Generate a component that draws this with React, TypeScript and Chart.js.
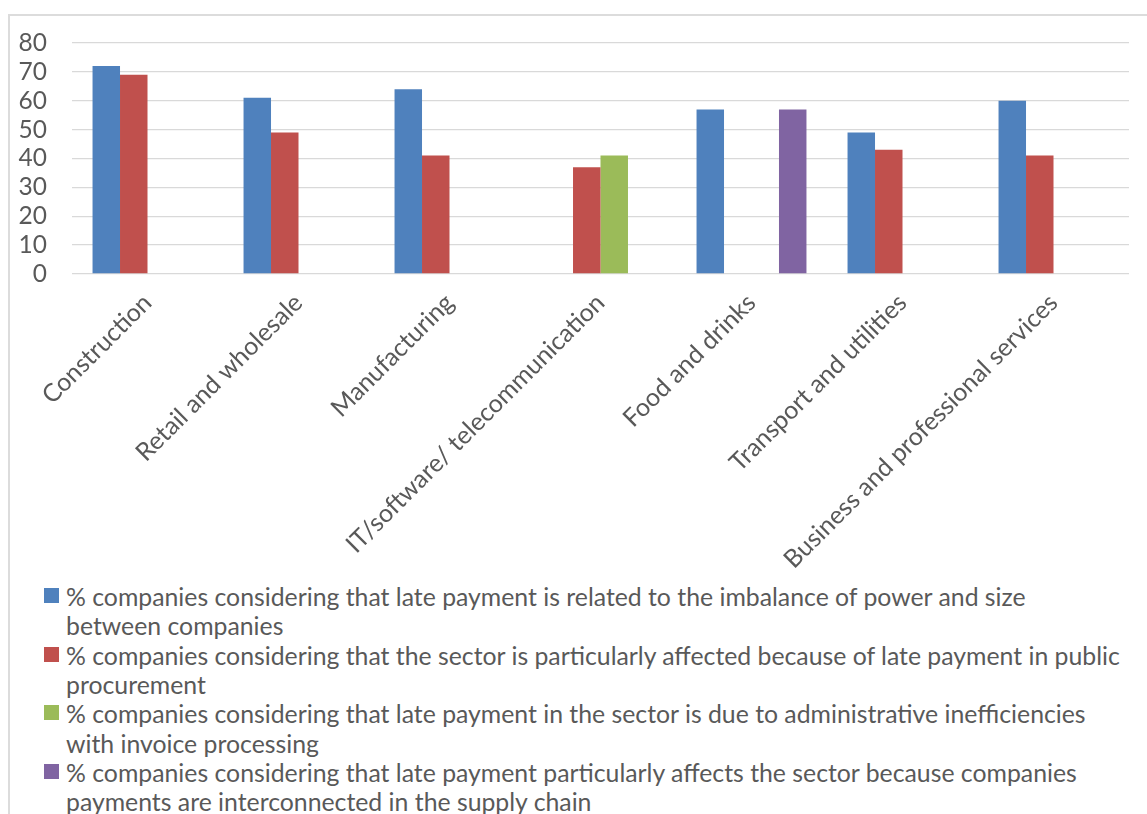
import React, { useEffect, useRef } from "react";
import { Chart, registerables } from "chart.js";

Chart.register(...registerables);

const categories = [
  "Construction",
  "Retail and wholesale",
  "Manufacturing",
  "IT/software/ telecommunication",
  "Food and drinks",
  "Transport and utilities",
  "Business and professional services",
];

const imbalanceValues = [72, 61, 64, null, 57, 49, 60];
const publicProcurementValues = [69, 49, 41, 37, null, 43, 41];
const adminInefficiencyValues = [null, null, null, 41, null, null, null];
const supplyChainValues = [null, null, null, null, 57, null, null];

const seriesLabelLines = [
  ["% companies considering that late payment is related to the imbalance of power and size", "between companies"],
  ["% companies considering that the sector is particularly affected because of late payment in public", "procurement"],
  ["% companies considering that late payment in the sector is due to administrative inefficiencies", "with invoice processing"],
  ["% companies considering that late payment particularly affects the sector because companies", "payments are interconnected in the supply chain"],
];

const seriesColors = ["#4F81BD", "#C0504D", "#9BBB59", "#8064A2"];

const yMin = 0;
const yMax = 80;
const yStep = 10;

const FONT = "Lato, 'Open Sans', sans-serif";
const TEXT_COLOR = "#595959";

export default function App() {
  const canvasRef = useRef<HTMLCanvasElement | null>(null);

  useEffect(() => {
    if (!canvasRef.current) return;
    const seriesValues = [imbalanceValues, publicProcurementValues, adminInefficiencyValues, supplyChainValues];
    const chart = new Chart(canvasRef.current, {
      type: "bar",
      data: {
        labels: categories,
        datasets: seriesValues.map((vals, i) => ({
          label: seriesLabelLines[i].join(" "),
          data: vals,
          backgroundColor: seriesColors[i],
          borderWidth: 0,
          categoryPercentage: 0.728,
          barPercentage: 1,
        })),
      },
      options: {
        responsive: false,
        animation: false,
        layout: { padding: { left: 0, right: 18, top: 43, bottom: 0 } },
        plugins: {
          legend: { display: false },
          tooltip: { enabled: false },
          title: { display: false },
        },
        scales: {
          x: {
            grid: { display: false },
            border: { display: false },
            ticks: {
              autoSkip: false,
              minRotation: 45,
              maxRotation: 45,
              padding: 6,
              color: TEXT_COLOR,
              font: { family: FONT, size: 25 },
            },
            afterFit: (scale: any) => {
              scale.height = 580 - 274;
            },
          },
          y: {
            min: yMin,
            max: yMax,
            ticks: {
              stepSize: yStep,
              autoSkip: false,
              padding: 25,
              color: TEXT_COLOR,
              font: { family: FONT, size: 24.5 },
            },
            grid: { color: "#d9d9d9", lineWidth: 1.3, drawTicks: false },
            border: { display: false },
            afterFit: (scale: any) => {
              scale.width = 72;
            },
          },
        },
      },
    });
    return () => chart.destroy();
  }, []);

  return (
    <div
      style={{
        position: "fixed",
        left: 0,
        top: 0,
        width: 1147,
        height: 814,
        overflow: "hidden",
        background: "#ffffff",
      }}
    >
      <div
        style={{
          position: "absolute",
          left: 8,
          top: 14,
          width: 1139,
          height: 800,
          borderLeft: "2px solid #dcdcdc",
          borderTop: "2px solid #dcdcdc",
          boxSizing: "border-box",
        }}
      />
      <canvas
        ref={canvasRef}
        width={1147}
        height={580}
        style={{ position: "absolute", left: 0, top: 0, width: 1147, height: 580 }}
      />
      <div
        style={{
          position: "absolute",
          left: 44,
          top: 582,
          width: 1100,
          fontFamily: FONT,
          fontSize: 24.8,
          lineHeight: "29.35px",
          color: TEXT_COLOR,
        }}
      >
        {seriesLabelLines.map((lines, i) => (
          <div key={i} style={{ position: "relative", paddingLeft: 22, whiteSpace: "nowrap" }}>
            <span
              style={{
                position: "absolute",
                left: 0,
                top: 6,
                width: 15,
                height: 15,
                background: seriesColors[i],
              }}
            />
            {lines.map((ln, j) => (
              <div key={j}>{ln}</div>
            ))}
          </div>
        ))}
      </div>
    </div>
  );
}
